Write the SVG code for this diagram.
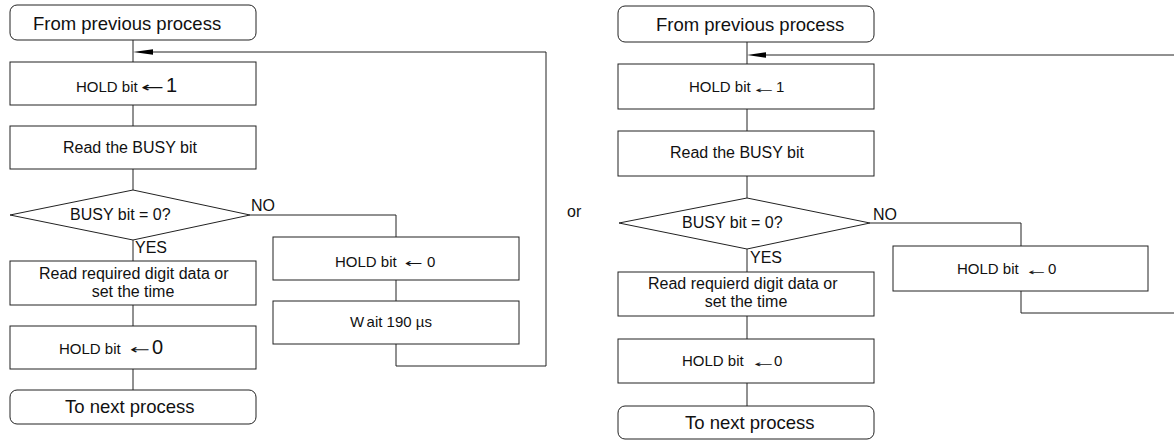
<svg xmlns="http://www.w3.org/2000/svg" width="1174" height="440" viewBox="0 0 1174 440">
<style>
.b{fill:#fff;stroke:#222;stroke-width:1}
.c{fill:none;stroke:#222;stroke-width:1}
text{font-family:"Liberation Sans",Arial,sans-serif;fill:#111}
.t18{font-size:18.5px}
.t16{font-size:16px}
.t15{font-size:15px}
.big{font-size:20px}
.ar{font-family:"DejaVu Sans",sans-serif}
</style>
<rect width="1174" height="440" fill="#fff"/>
<g id="connectors">
<path class="c" d="M133,40V62M133,105V126M133,169V190M133,240V261M133,305V326M133,369V390"/>
<path class="c" d="M250,215H396V237M396,280V301M396,344V366H546V52H152"/>
<polygon points="133,52 153,49.3 153,54.7" fill="#000"/>
<path class="c" d="M747,42V64M747,109V131M747,176V198M747,249V272M747,316V339M747,383V406"/>
<path class="c" d="M870,223H1021V246M1021,291V313H1174M1174,55H765"/>
<polygon points="747,55 766,52.3 766,57.7" fill="#000"/>
</g>
<g id="start1"><rect class="b" x="10" y="5" width="246" height="35" rx="7"/><text class="t18" x="33" y="29.5">From previous process</text></g>
<g id="hold1a"><rect class="b" x="10" y="62" width="246" height="43"/><text class="t15" x="76" y="92">HOLD bit</text><text class="ar" font-size="14" x="141" y="92" textLength="23" lengthAdjust="spacingAndGlyphs">←</text><text class="big" x="166" y="92">1</text></g>
<g id="read1"><rect class="b" x="10" y="126" width="246" height="43"/><text class="t16" x="130" y="153" text-anchor="middle">Read the BUSY bit</text></g>
<g id="dec1"><polygon class="b" points="133,190 250,215 133,240 10,215"/><text class="t16" x="70" y="220">BUSY bit = 0?</text></g>
<g id="data1"><rect class="b" x="10" y="261" width="246" height="44"/><text class="t16" x="39" y="279">Read required digit data or</text><text class="t16" x="133" y="297" text-anchor="middle">set the time</text></g>
<g id="hold0a"><rect class="b" x="10" y="326" width="246" height="43"/><text class="t15" x="59" y="354">HOLD bit</text><text class="ar" font-size="13" x="130" y="354" textLength="20" lengthAdjust="spacingAndGlyphs">←</text><text class="big" x="152" y="354">0</text></g>
<g id="end1"><rect class="b" x="10" y="390" width="246" height="34" rx="7"/><text class="t18" x="65" y="413">To next process</text></g>
<g id="holdno1"><rect class="b" x="273" y="237" width="246" height="43"/><text class="t15" x="335" y="267">HOLD bit</text><text class="ar" font-size="12" x="405" y="267" textLength="18" lengthAdjust="spacingAndGlyphs">←</text><text class="t15" x="427" y="267">0</text></g>
<g id="wait1"><rect class="b" x="273" y="301" width="246" height="43"/><text class="t15" x="350" y="327">W<tspan dx="3">ait 190 µs</tspan></text></g>
<g id="labels1"><text class="t16" x="251" y="211">NO</text><text class="t16" x="135" y="253">YES</text></g>
<text class="t16" x="567" y="217">or</text>
<g id="start2"><rect class="b" x="618" y="6" width="256" height="36" rx="7"/><text class="t18" x="656" y="31">From previous process</text></g>
<g id="hold1b"><rect class="b" x="618" y="64" width="256" height="45"/><text class="t15" x="689" y="92">HOLD bit</text><text class="ar" font-size="9" x="755" y="92.5" textLength="18" lengthAdjust="spacingAndGlyphs">←</text><text class="t15" x="776" y="92">1</text></g>
<g id="read2"><rect class="b" x="618" y="131" width="256" height="45"/><text class="t16" x="670" y="158">Read the BUSY bit</text></g>
<g id="dec2"><polygon class="b" points="747,198 870,223 747,249 619,223"/><text class="t16" x="682" y="228">BUSY bit = 0?</text></g>
<g id="data2"><rect class="b" x="618" y="272" width="256" height="44"/><text class="t16" x="648" y="289">Read requierd digit data or</text><text class="t16" x="746" y="307" text-anchor="middle">set the time</text></g>
<g id="hold0b"><rect class="b" x="618" y="339" width="256" height="44"/><text class="t15" x="682" y="366">HOLD bit</text><text class="ar" font-size="9" x="754" y="367" textLength="19" lengthAdjust="spacingAndGlyphs">←</text><text class="t15" x="774" y="366">0</text></g>
<g id="end2"><rect class="b" x="618" y="406" width="256" height="33" rx="7"/><text class="t18" x="685" y="429">To next process</text></g>
<g id="holdno2"><rect class="b" x="893" y="246" width="255" height="45"/><text class="t15" x="957" y="274">HOLD bit</text><text class="ar" font-size="9" x="1028" y="274.5" textLength="17" lengthAdjust="spacingAndGlyphs">←</text><text class="t15" x="1048" y="274">0</text></g>
<g id="labels2"><text class="t16" x="873" y="220">NO</text><text class="t16" x="750" y="263">YES</text></g>
</svg>
